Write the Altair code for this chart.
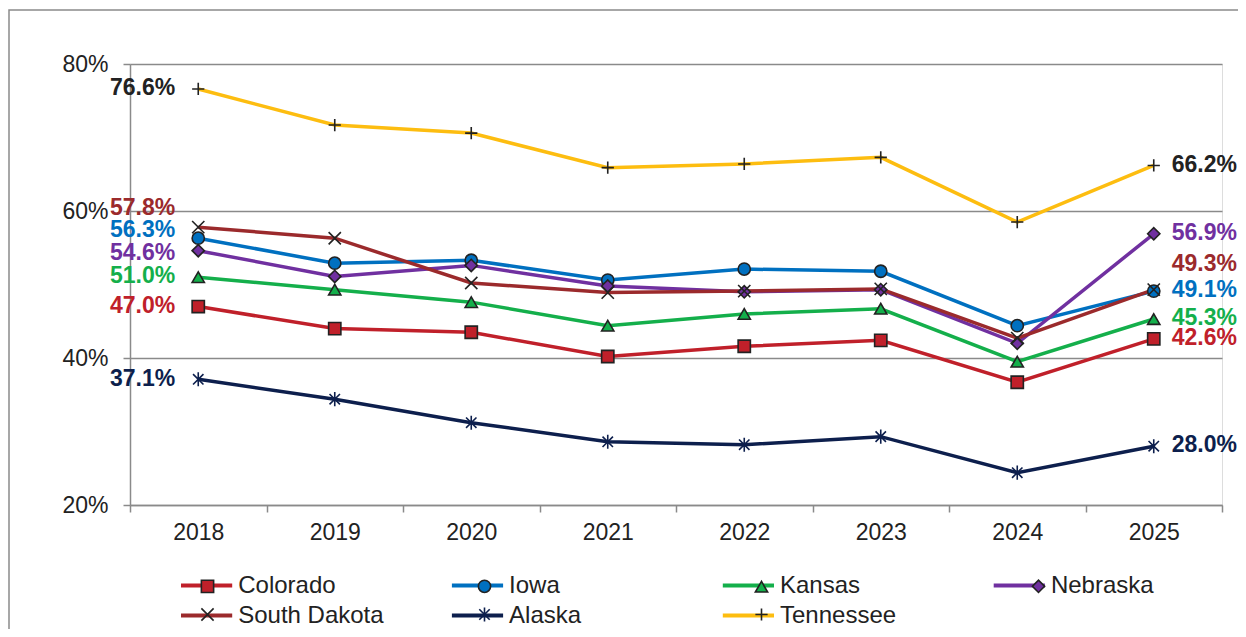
import altair as alt
import pandas as pd

YEARS = ["2018", "2019", "2020", "2021", "2022", "2023", "2024", "2025"]
STATES = ["Colorado", "Iowa", "Kansas", "Nebraska", "South Dakota", "Alaska", "Tennessee"]

COLORADO = [47.0, 44.0, 43.5, 40.2, 41.6, 42.4, 36.7, 42.6]
IOWA = [56.3, 52.9, 53.3, 50.6, 52.1, 51.8, 44.4, 49.1]
KANSAS = [51.0, 49.3, 47.6, 44.4, 46.0, 46.7, 39.5, 45.3]
NEBRASKA = [54.6, 51.1, 52.6, 49.8, 49.0, 49.3, 42.0, 56.9]
SOUTH_DAKOTA = [57.8, 56.3, 50.2, 48.9, 49.1, 49.4, 42.7, 49.3]
ALASKA = [37.1, 34.4, 31.2, 28.6, 28.2, 29.3, 24.4, 28.0]
TENNESSEE = [76.6, 71.7, 70.6, 65.9, 66.4, 67.3, 58.5, 66.2]
SERIES = [COLORADO, IOWA, KANSAS, NEBRASKA, SOUTH_DAKOTA, ALASKA, TENNESSEE]

# styles
FONT = "Liberation Sans"
GRAY = "#8a8a8a"
LINE_COLORS = ["#C0202A", "#0070C0", "#14AF4B", "#7030A0", "#9B2A2C", "#0D1F4D", "#FDBD10"]
LABEL_COLORS = ["#C0202A", "#0070C0", "#14AF4B", "#7030A0", "#9B2A2C", "#0D1F4D", "#222222"]
X_SHAPE = "M-1,-1L1,1M-1,1L1,-1"
STAR_SHAPE = "M-0.85,-0.85L0.85,0.85M-0.85,0.85L0.85,-0.85M0,-1.15L0,1.15"
PLUS_SHAPE = "M-1,0L1,0M0,-1L0,1"
LEGEND_LINE = "M-1.6,0L1.6,0"
MARKER_SHAPES = ["square", "circle", "triangle-up", "diamond", X_SHAPE, STAR_SHAPE, PLUS_SHAPE]
MARKER_FILLS = ["#C0202A", "#0070C0", "#14AF4B", "#7030A0", "transparent", "transparent", "transparent"]
MARKER_STROKES = ["#222222", "#222222", "#222222", "#222222", "#222222", "#0D1F4D", "#222222"]
# label nudges in pixels (positive = down)
LEFT_NUDGE = {"South Dakota": -18, "Iowa": -7, "Nebraska": 3}
RIGHT_NUDGE = {"South Dakota": -25}

PLOT_W, PLOT_H = 1092, 441
Y_DOMAIN = [20, 80]
PX = (Y_DOMAIN[1] - Y_DOMAIN[0]) / PLOT_H

# marker legend uses its own codes so that it stays apart from the line legend
MARKER_CODES = [f"m{i}" for i in range(len(STATES))]

rows = []
for s, code, vals in zip(STATES, MARKER_CODES, SERIES):
    for yr, v in zip(YEARS, vals):
        rows.append({"State": s, "Marker": code, "Year": yr, "Value": v})
df = pd.DataFrame(rows)

lab = []
for s, vals, lc in zip(STATES, SERIES, LABEL_COLORS):
    lab.append({"State": s, "Year": YEARS[0], "Y": vals[0] - LEFT_NUDGE.get(s, 0) * PX + 0.1,
                "Text": f"{vals[0]:.1f}%", "Side": "left", "LC": lc})
    lab.append({"State": s, "Year": YEARS[-1], "Y": vals[-1] - RIGHT_NUDGE.get(s, 0) * PX + 0.1,
                "Text": f"{vals[-1]:.1f}%", "Side": "right", "LC": lc})
labels = pd.DataFrame(lab)

X = alt.X("Year:N", sort=YEARS,
          scale=alt.Scale(type="band", paddingInner=0, paddingOuter=0),
          axis=alt.Axis(title=None, tickBand="extent", labelAngle=0, labelFontSize=23,
                        labelFont=FONT, labelColor="#222222", labelPadding=9, tickSize=7,
                        tickColor=GRAY, tickWidth=1.5, domainColor=GRAY, domainWidth=1.5,
                        grid=False))
Y = alt.Y("Value:Q", scale=alt.Scale(domain=Y_DOMAIN, nice=False, zero=False),
          axis=alt.Axis(title=None, values=[20, 40, 60, 80], labelExpr="datum.value + '%'",
                        grid=True, gridColor=GRAY, gridWidth=1.5, tickSize=7, tickColor=GRAY,
                        tickWidth=1.5, domainColor=GRAY, domainWidth=1.5, labelFontSize=23,
                        labelFont=FONT, labelColor="#222222", labelPadding=15))

LEG_A = alt.Legend(title=None, orient="none", direction="horizontal", legendX=58.6, legendY=503.5,
                   columns=4, symbolType=LEGEND_LINE, symbolSize=1024, symbolStrokeWidth=4,
                   labelFontSize=24, labelFont=FONT, labelColor="#222222", labelOffset=13.6,
                   columnPadding=58.9, rowPadding=0, gridAlign="all", padding=0, labelLimit=400)
LEG_B = alt.Legend(title=None, orient="none", direction="horizontal", legendX=70.5, legendY=514.5,
                   columns=4, symbolSize=150, symbolStrokeWidth=1.6, labelExpr="''",
                   labelFontSize=1, labelOffset=0, columnPadding=257, rowPadding=7,
                   gridAlign="all", padding=0)

border = alt.Chart(pd.DataFrame({"k": [0]})).mark_rect(
    filled=False, stroke=GRAY, strokeWidth=1.5
).encode(x=alt.value(-121), x2=alt.value(1400), y=alt.value(-54), y2=alt.value(800))

base = alt.Chart(df)
lines = base.mark_line(strokeWidth=3.5).encode(
    x=X, y=Y,
    color=alt.Color("State:N", scale=alt.Scale(domain=STATES, range=LINE_COLORS), legend=LEG_A),
)
points = base.mark_point(filled=True, size=150, strokeWidth=1.6, opacity=1).encode(
    x=X, y=Y,
    shape=alt.Shape("Marker:N", scale=alt.Scale(domain=MARKER_CODES, range=MARKER_SHAPES), legend=LEG_B),
    fill=alt.Fill("Marker:N", scale=alt.Scale(domain=MARKER_CODES, range=MARKER_FILLS), legend=LEG_B),
    stroke=alt.Stroke("Marker:N", scale=alt.Scale(domain=MARKER_CODES, range=MARKER_STROKES), legend=LEG_B),
)

lab_base = alt.Chart(labels)
text_left = lab_base.transform_filter("datum.Side == 'left'").mark_text(
    align="right", baseline="middle", dx=-23, fontSize=23, fontWeight="bold", font=FONT
).encode(x=X, y=alt.Y("Y:Q"), text="Text:N", color=alt.Color("LC:N", scale=None))
text_right = lab_base.transform_filter("datum.Side == 'right'").mark_text(
    align="left", baseline="middle", dx=18, fontSize=23, fontWeight="bold", font=FONT
).encode(x=X, y=alt.Y("Y:Q"), text="Text:N", color=alt.Color("LC:N", scale=None))

chart = alt.layer(border, lines, points, text_left, text_right).properties(
    width=PLOT_W, height=PLOT_H,
    padding={"left": 122, "top": 56, "right": 16, "bottom": 124},
    autosize=alt.AutoSizeParams(type="none"),
).configure_view(strokeWidth=0).configure(font=FONT, background="white")

chart.save("out.html", embed_options={"renderer": "svg", "actions": False})
